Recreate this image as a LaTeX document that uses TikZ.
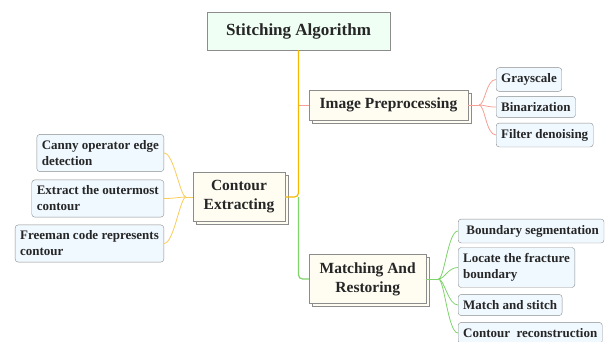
\documentclass[tikz,border=0pt]{standalone}
\usepackage{fontspec}
\setmainfont{Liberation Serif}
\usetikzlibrary{calc,shadows}

\definecolor{rootfill}{HTML}{F0FFF4}
\definecolor{topicfill}{HTML}{FFFDF2}
\definecolor{leaffill}{HTML}{F0F9FF}
\definecolor{boxline}{HTML}{8C8C8C}
\definecolor{trunkline}{HTML}{F5B800}
\definecolor{redline}{HTML}{F4A095}
\definecolor{greenline}{HTML}{7ED36B}
\definecolor{yellowline}{HTML}{F8CC5A}

\tikzset{
  rootbox/.style={draw=boxline, fill=rootfill, text=black!85,
    font=\bfseries\fontsize{17}{20}\selectfont,
    minimum width=183pt, minimum height=38pt},
  topicbox/.style={draw=boxline, fill=topicfill, text=black!85, align=center,
    font=\bfseries\fontsize{15.5}{19}\selectfont,
    inner xsep=10.5pt, inner ysep=8pt,
    copy shadow={shadow xshift=3pt, shadow yshift=-3pt, draw=boxline, fill=topicfill}},
  leafbox/.style={draw=boxline, fill=leaffill, text=black!85, align=left,
    rounded corners=3pt, font=\bfseries\fontsize{13}{16}\selectfont,
    inner xsep=5pt, inner ysep=6pt},
}

\begin{document}
\begin{tikzpicture}[x=1pt,y=-1pt]
            \useasboundingbox (0,0) rectangle (608,341);

            \node[rootbox] (sa) at (298.5,31) {Stitching Algorithm};
            \node[topicbox, anchor=west] (ip) at (309,105) {Image Preprocessing};
            \node[topicbox, anchor=east] (ce) at (285,197) {Contour\\Extracting};
            \node[topicbox, anchor=west] (mr) at (309,279) {Matching And\\Restoring};

            \node[leafbox, anchor=west] (gs) at (496,79.5) {Grayscale};
            \node[leafbox, anchor=west] (bz) at (496,107) {Binarization};
            \node[leafbox, anchor=west] (fd) at (496,135) {Filter denoising};

            \node[leafbox, anchor=east] (cd) at (164,153) {Canny operator edge\\detection};
            \node[leafbox, anchor=east] (eo) at (164,198.5) {Extract the outermost\\contour};
            \node[leafbox, anchor=east] (fc) at (164,243.5) {Freeman code represents\\contour};

            \node[leafbox, anchor=west] (bs) at (458,231) {\ Boundary segmentation};
            \node[leafbox, anchor=west] (lf) at (458,267.5) {Locate the fracture\\boundary};
            \node[leafbox, anchor=west] (ms) at (458,305) {Match and stitch};
            \node[leafbox, anchor=west] (cr) at (458,333) {Contour\ \ reconstruction};

            \coordinate (j1) at (sa.south |- ce.east);
            \coordinate (j2) at (sa.south |- ip.west);
            \draw[trunkline, line width=1.2pt, rounded corners=4pt] (sa.south) |- (ce.east);
            \draw[greenline, line width=1.2pt, rounded corners=4pt] (j1) |- (mr.west);
            \draw[redline, line width=1pt] (j2) -- (ip.west);

            \coordinate (ipb) at ($(ip.east)+(11,0)$);
            \draw[redline, line width=.8pt] (ip.east) -- (ipb);
            \foreach \n in {gs,bz,fd}
              \draw[redline, line width=.8pt] (ipb) .. controls +(6,0) and +(-10,0) .. (\n.west);

            \coordinate (ceb) at ($(ce.west)+(-7,0)$);
            \draw[yellowline, line width=.8pt] (ce.west) -- (ceb);
            \foreach \n in {cd,eo,fc}
              \draw[yellowline, line width=.8pt] (ceb) .. controls +(-6,0) and +(10,0) .. (\n.east);

            \coordinate (mrb) at ($(mr.east)+(12,0)$);
            \draw[greenline, line width=.8pt] (mr.east) -- (mrb);
            \foreach \n in {bs,lf,ms,cr}
              \draw[greenline, line width=.8pt] (mrb) .. controls +(6,0) and +(-10,0) .. (\n.west);
\end{tikzpicture}
\end{document}
